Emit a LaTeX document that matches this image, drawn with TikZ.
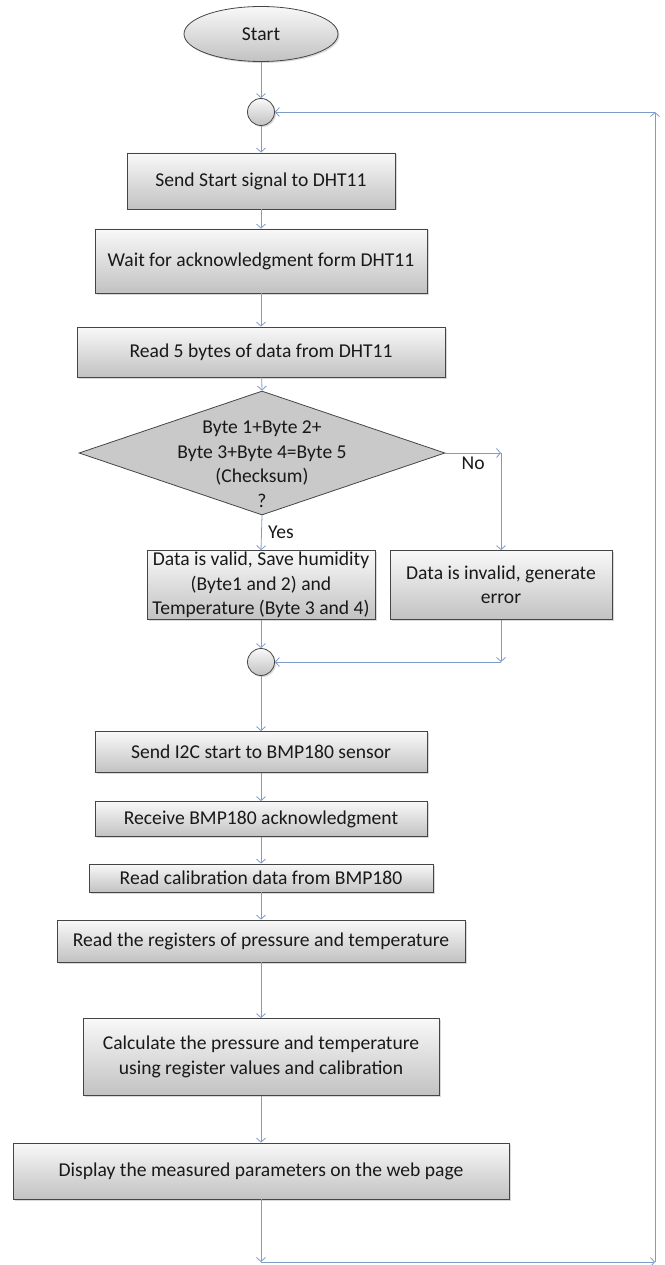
\documentclass[tikz,border=0pt]{standalone}
\usepackage{fontspec}
\setmainfont{Carlito}
\usetikzlibrary{shapes.geometric,arrows.meta,shadows}
\definecolor{flowblue}{HTML}{7F9CC9}
\definecolor{boxedge}{HTML}{454545}
\tikzset{
  txt/.style={font=\fontsize{19.6}{24.5}\selectfont, text=black!90},
  procbox/.style={txt, draw=boxedge, line width=0.8pt, top color=gray!5, bottom color=gray!48,
    drop shadow={shadow xshift=1.5pt, shadow yshift=-1.5pt, opacity=0.3},
    inner sep=0pt, align=center},
  startnode/.style={procbox, ellipse},
  joint/.style={procbox, circle, minimum size=27pt},
  decision/.style={diamond, draw=boxedge, line width=0.8pt, fill=gray!42, inner sep=0pt,
    minimum width=366pt, minimum height=124pt},
  flow/.style={draw=flowblue, line width=0.8pt, -{Straight Barb[length=4pt,width=9pt]}}
}
\begin{document}
\begin{tikzpicture}[x=1pt,y=-1pt]
\useasboundingbox (0,0) rectangle (664,1265);
\node[startnode, minimum width=154pt, minimum height=55pt] (start) at (261,34) {Start};
\node[joint] (j1) at (261,112) {};
\node[procbox, minimum width=268pt, minimum height=56pt] (sendsig) at (261,181) {Send Start signal to DHT11};
\node[procbox, minimum width=332pt, minimum height=64pt] (waitack) at (261,261) {Wait for acknowledgment form DHT11};
\node[procbox, minimum width=368pt, minimum height=50pt] (readdata) at (261,352) {Read 5 bytes of data from DHT11};
\node[decision] (check) at (262,453) {};
\node[txt, align=center] (checktxt) at (262,464) {Byte 1+Byte 2+\\Byte 3+Byte 4=Byte 5\\(Checksum)\\?};
\node[procbox, minimum width=228pt, minimum height=69pt] (valid) at (261,585) {Data is valid, Save humidity\\(Byte1 and 2) and\\Temperature (Byte 3 and 4)};
\node[procbox, minimum width=222pt, minimum height=69pt] (invalid) at (501,585) {Data is invalid, generate\\error};
\node[joint] (j2) at (261,662) {};
\node[procbox, minimum width=332pt, minimum height=41pt] (i2cstart) at (261,752) {Send I2C start to BMP180 sensor};
\node[procbox, minimum width=332pt, minimum height=35pt] (recvack) at (261,819) {Receive BMP180 acknowledgment};
\node[procbox, minimum width=344pt, minimum height=28pt] (readcal) at (261,878) {Read calibration data from BMP180};
\node[procbox, minimum width=408pt, minimum height=42pt] (readreg) at (261,941) {Read the registers of pressure and temperature};
\node[procbox, minimum width=356pt, minimum height=77pt] (calc) at (261,1057) {Calculate the pressure and temperature\\using register values and calibration};
\node[procbox, minimum width=496pt, minimum height=56pt] (display) at (261,1171) {Display the measured parameters on the web page};

\coordinate (nocorner) at (invalid.north |- check.east);
\coordinate (errcorner) at (invalid.south |- j2);
\coordinate (loopa) at (261,1262);
\coordinate (loopb) at (655,1262);
\coordinate (loopc) at (655,112);

\draw[flow] (start) -- (j1);
\draw[flow] (j1) -- (sendsig);
\draw[flow] (sendsig) -- (waitack);
\draw[flow] (waitack) -- (readdata);
\draw[flow] (readdata) -- (check.north);
\draw[flow] (check.east) -- node[txt, below] {No} (nocorner);
\draw[flow] (nocorner) -- (invalid.north);
\draw[flow] (check.south) -- node[txt, right=3pt] {Yes} (valid.north);
\draw[flow] (valid) -- (j2);
\draw[flow] (invalid.south) -- (errcorner);
\draw[flow] (errcorner) -- (j2);
\draw[flow] (j2) -- (i2cstart);
\draw[flow] (i2cstart) -- (recvack);
\draw[flow] (recvack) -- (readcal);
\draw[flow] (readcal) -- (readreg);
\draw[flow] (readreg) -- (calc);
\draw[flow] (calc) -- (display);
\draw[flow] (display) -- (loopa);
\draw[flow] (loopa) -- (loopb);
\draw[flow] (loopb) -- (loopc);
\draw[flow] (loopc) -- (j1);
\end{tikzpicture}
\end{document}
